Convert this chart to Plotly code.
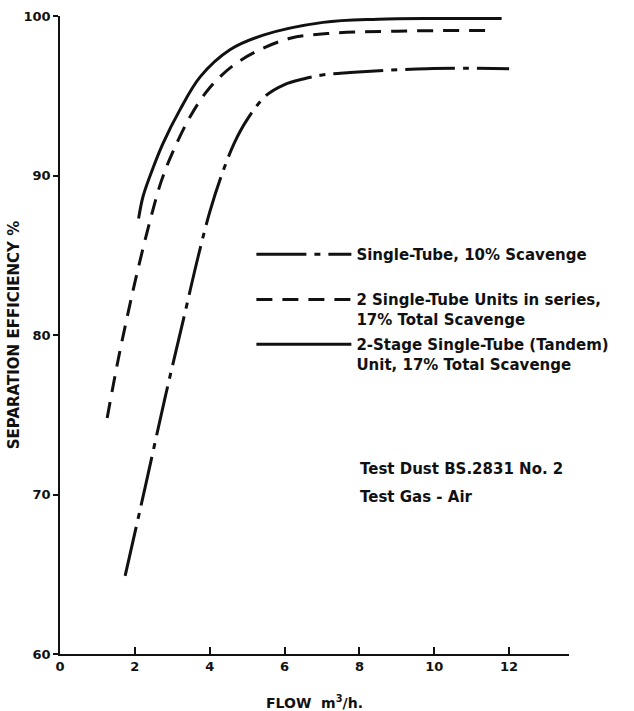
import plotly.graph_objects as go

# Data
tandem_x = [2.1, 2.22, 2.49, 2.75, 3.2, 3.75, 4.55, 5.43, 7.03, 8.5, 10.0, 11.8]
tandem_y = [87.3, 88.7, 90.5, 92.0, 94.1, 96.2, 97.9, 98.8, 99.6, 99.8, 99.85, 99.85]

series_x = [1.26, 1.55, 1.82, 2.06, 2.41, 2.7, 3.0, 3.48, 4.0, 4.63, 5.35, 6.15, 7.14, 9.0, 11.55]
series_y = [74.8, 78.4, 81.4, 83.9, 87.2, 89.6, 91.4, 93.7, 95.5, 96.9, 97.9, 98.6, 98.9, 99.05, 99.1]

single_x = [1.74, 2.27, 2.8, 3.3, 3.7, 4.0, 4.3, 4.65, 5.0, 5.5, 6.0, 6.5, 7.0, 7.75, 9.8, 12.0]
single_y = [64.9, 70.4, 76.0, 81.0, 85.0, 87.7, 89.9, 92.0, 93.5, 95.0, 95.7, 96.05, 96.3, 96.45, 96.7, 96.7]

names = [
    "Single-Tube, 10% Scavenge",
    "2 Single-Tube Units in series,<br>17% Total Scavenge",
    "2-Stage Single-Tube (Tandem)<br>Unit, 17% Total Scavenge",
]

x_ticks = [0, 2, 4, 6, 8, 10, 12]
y_ticks = [60, 70, 80, 90, 100]

FONT = "DejaVu Sans"
INK = "#111111"

fig = go.Figure()
fig.add_trace(go.Scatter(x=single_x, y=single_y, mode="lines", name=names[0],
                         line=dict(color=INK, width=3, dash="50px,8px,6px,8px", shape="spline"),
                         legend="legend"))
fig.add_trace(go.Scatter(x=series_x, y=series_y, mode="lines", name=names[1],
                         line=dict(color=INK, width=3, dash="16px,10px", shape="spline"),
                         legend="legend2"))
fig.add_trace(go.Scatter(x=tandem_x, y=tandem_y, mode="lines", name=names[2],
                         line=dict(color=INK, width=3, shape="spline"),
                         legend="legend3"))

legend_common = dict(
    xanchor="left", yanchor="top", valign="top", itemwidth=95,
    font=dict(family=FONT, size=15, color=INK, weight="bold"),
    bgcolor="rgba(0,0,0,0)", borderwidth=0,
)

fig.update_layout(
    width=634, height=711,
    margin=dict(l=60, r=65, t=16, b=57),
    paper_bgcolor="white", plot_bgcolor="white",
    showlegend=True,
    legend=dict(x=0.376, y=0.652, **legend_common),
    legend2=dict(x=0.376, y=0.581, **legend_common),
    legend3=dict(x=0.376, y=0.511, **legend_common),
    xaxis=dict(
        range=[0, 13.6], tickvals=x_ticks, ticktext=[str(v) for v in x_ticks],
        showline=True, linecolor=INK, linewidth=1.5, mirror=False,
        ticks="inside", ticklen=7, tickcolor=INK, tickwidth=1.5,
        showgrid=False, zeroline=False, automargin=False,
        tickfont=dict(family=FONT, size=13, color=INK, weight="bold"),
        title=dict(text="FLOW  m<sup>3</sup>/h.", standoff=28,
                   font=dict(family=FONT, size=14, color=INK, weight="bold")),
    ),
    yaxis=dict(
        range=[60, 100], tickvals=y_ticks, ticktext=[str(v) for v in y_ticks],
        showline=True, linecolor=INK, linewidth=1.5,
        ticks="outside", ticklen=5, tickcolor=INK, tickwidth=1.5,
        showgrid=False, zeroline=False, automargin=False,
        tickfont=dict(family=FONT, size=13, color=INK, weight="bold"),
        title=dict(text="SEPARATION EFFICIENCY %", standoff=0,
                   font=dict(family=FONT, size=15, color=INK, weight="bold")),
    ),
)

fig.add_annotation(xref="paper", yref="paper", x=0.585, y=0.29, xanchor="left", yanchor="middle",
                   text="Test Dust BS.2831 No. 2", showarrow=False,
                   font=dict(family=FONT, size=15, color=INK, weight="bold"))
fig.add_annotation(xref="paper", yref="paper", x=0.585, y=0.246, xanchor="left", yanchor="middle",
                   text="Test Gas - Air", showarrow=False,
                   font=dict(family=FONT, size=15, color=INK, weight="bold"))

fig.write_html("out.html",
               config={"displayModeBar": False},
               post_script="document.body.style.margin='0';document.body.style.overflow='hidden';")
